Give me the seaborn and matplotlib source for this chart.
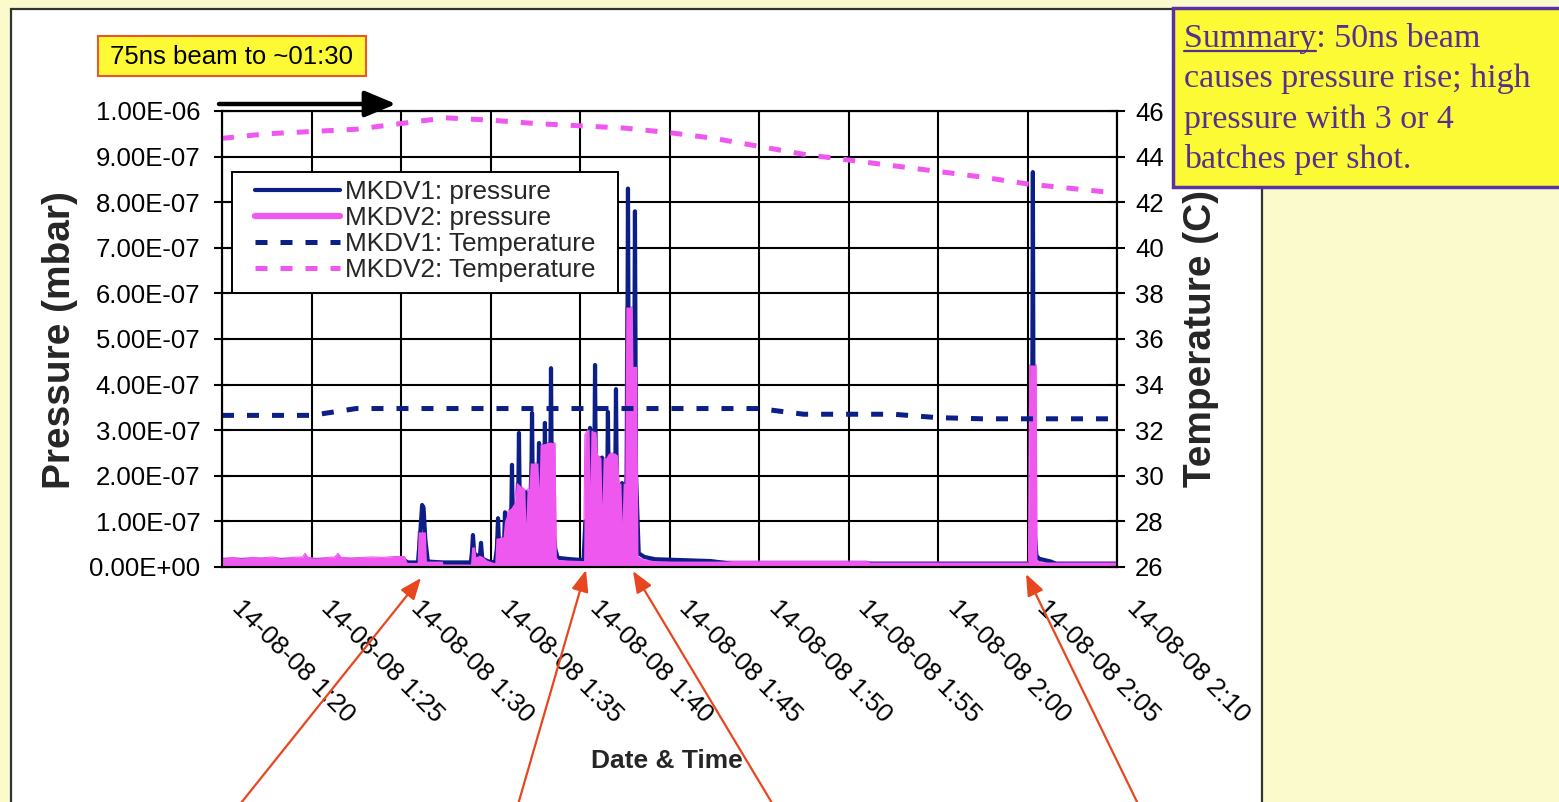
import numpy as np
import pandas as pd
import matplotlib
matplotlib.use("Agg")
import matplotlib.pyplot as plt
from matplotlib.patches import Rectangle, FancyArrowPatch
from matplotlib.transforms import ScaledTranslation
from matplotlib.ticker import FuncFormatter
import seaborn as sns

# ---------------- data ----------------
# time axis: minutes after 2008-08-14 01:20; pressure in units of 1e-7 mbar
start = pd.Timestamp("2008-08-14 01:20")

mkdv1_p_min = [0.0, 10.2, 10.4, 10.95, 11.05, 11.18, 11.26, 11.36, 11.5, 12.3,
               13.9, 13.96, 14.02, 14.09, 14.4, 14.47, 14.54, 14.9, 15.25,
               15.36, 15.42, 15.48, 15.75, 15.81, 15.87, 16.14, 16.20, 16.26,
               16.53, 16.59, 16.65, 16.92, 16.98, 17.04, 17.26, 17.32, 17.38,
               17.65, 17.71, 17.77, 17.98, 18.04, 18.10, 18.32, 18.38, 18.44,
               18.62, 18.75, 19.5, 20.2, 20.3, 20.5, 20.56, 20.62, 20.78, 20.84,
               20.9, 21.17, 21.23, 21.29, 21.5, 21.56, 21.62, 21.95, 22.01, 22.07,
               22.29, 22.35, 22.41, 22.62, 22.68, 22.74, 23.01, 23.07, 23.13,
               23.28, 23.6, 24.2, 27.3, 28.5, 45.2, 45.25, 45.3, 45.35, 45.5,
               45.65, 46.3, 46.6, 50.0]
mkdv1_p_val = [0.14, 0.14, 0.10, 0.10, 0.60, 1.36, 1.30, 0.60, 0.12, 0.10,
               0.10, 0.30, 0.70, 0.30, 0.20, 0.53, 0.18, 0.12, 0.10,
               0.40, 1.07, 0.40, 0.40, 1.20, 0.40, 0.60, 2.24, 0.60,
               0.80, 2.94, 0.80, 0.80, 1.64, 0.80, 1.00, 3.38, 1.00,
               1.00, 2.72, 1.00, 1.00, 3.16, 1.00, 1.00, 4.36, 1.00,
               0.40, 0.20, 0.17, 0.15, 1.00, 1.00, 3.05, 1.00, 1.00, 4.43,
               1.00, 1.00, 2.40, 1.00, 1.00, 3.40, 1.00, 1.00, 3.90, 1.00,
               0.80, 1.84, 0.80, 2.00, 8.30, 2.00, 2.00, 7.80, 2.00,
               0.30, 0.22, 0.17, 0.13, 0.07, 0.07, 1.00, 8.66, 1.00, 0.25,
               0.18, 0.12, 0.07, 0.07]

mkdv2_p_min = [0.0, 0.6, 1.1, 1.7, 2.2, 2.8, 3.3, 3.9, 4.5, 4.64, 4.8, 5.3, 5.9,
               6.3, 6.48, 6.65, 7.2, 7.8, 8.4, 9.0, 9.6, 10.2, 10.34, 10.9,
               10.96, 11.36, 11.42, 12.3, 12.36, 13.88, 13.95, 14.12, 14.18,
               14.38, 14.58, 14.8, 15.15, 15.24, 15.3, 15.7, 15.78, 16.0, 16.15,
               16.35, 16.45, 16.85, 16.92, 16.98, 17.04, 17.15, 17.22, 17.62,
               17.65, 17.71, 17.77, 17.95, 18.3, 18.6, 18.68, 18.8, 20.2, 20.27,
               20.45, 20.51, 20.56, 20.61, 20.9, 20.98, 21.17, 21.23, 21.29,
               21.45, 21.6, 21.95, 22.1, 22.18, 22.29, 22.35, 22.41, 22.5, 22.56,
               22.92, 22.96, 23.17, 23.24, 23.6, 24.5, 36.0, 36.2, 45.05, 45.12,
               45.48, 45.53, 45.8, 50.0]
mkdv2_p_val = [0.19, 0.21, 0.19, 0.21, 0.20, 0.22, 0.19, 0.21, 0.22, 0.30, 0.21,
               0.19, 0.21, 0.22, 0.30, 0.21, 0.20, 0.21, 0.22, 0.21, 0.23, 0.23,
               0.10, 0.10, 0.77, 0.77, 0.13, 0.13, 0.05, 0.05, 0.44, 0.44, 0.22,
               0.26, 0.22, 0.15, 0.10, 0.10, 0.63, 0.66, 1.00, 1.25, 1.30,
               1.42, 1.86, 1.72, 1.70, 0.96, 1.70, 1.72, 2.28, 2.28,
               2.28, 1.73, 2.68, 2.70, 2.74, 2.72, 0.22, 0.16, 0.14, 2.90,
               3.02, 3.02, 1.80, 3.00, 2.96, 2.45, 2.40, 1.36, 2.38,
               2.40, 2.50, 2.50, 2.45, 1.84, 1.84, 0.99, 1.84, 1.84, 5.70,
               5.70, 4.40, 4.40, 0.22, 0.15, 0.13, 0.13, 0.11, 0.11, 4.43,
               4.43, 0.13, 0.11, 0.11]

temp_min = [0, 2.5, 5, 7.5, 10, 12.5, 15, 17.5, 20, 22.5, 25, 27.5, 30, 32.5,
            35, 37.5, 40, 42.5, 45, 47.5, 50]
mkdv1_temp = [32.65, 32.65, 32.65, 32.95, 32.95, 32.95, 32.95, 32.95, 32.95,
              32.95, 32.95, 32.95, 32.95, 32.7, 32.7, 32.7, 32.55, 32.5, 32.5,
              32.5, 32.5]
mkdv2_temp = [44.8, 45.0, 45.1, 45.2, 45.45, 45.7, 45.6, 45.45, 45.35, 45.25,
              45.05, 44.8, 44.45, 44.1, 43.85, 43.6, 43.35, 43.1, 42.8, 42.6, 42.4]

tick_labels = ["14-08-08 1:20", "14-08-08 1:25", "14-08-08 1:30", "14-08-08 1:35",
               "14-08-08 1:40", "14-08-08 1:45", "14-08-08 1:50", "14-08-08 1:55",
               "14-08-08 2:00", "14-08-08 2:05", "14-08-08 2:10"]
pressure_ticks = [0, 1e-7, 2e-7, 3e-7, 4e-7, 5e-7, 6e-7, 7e-7, 8e-7, 9e-7, 1e-6]
temp_ticks = [26, 28, 30, 32, 34, 36, 38, 40, 42, 44, 46]

NAVY = "#0B1F86"
PINK = "#EE58EE"
BG = "#FAFACC"


def frame(minutes, values, scale=1.0):
    return pd.DataFrame({
        "time": start + pd.to_timedelta(np.asarray(minutes, dtype=float), unit="min"),
        "value": np.asarray(values, dtype=float) * scale,
    })


p1 = frame(mkdv1_p_min, mkdv1_p_val, 1e-7)
p2 = frame(mkdv2_p_min, mkdv2_p_val, 1e-7)
t1 = frame(temp_min, mkdv1_temp)
t2 = frame(temp_min, mkdv2_temp)

# ---------------- figure ----------------
sns.set_style("white")
plt.rcParams["font.family"] = ["Liberation Sans", "DejaVu Sans"]

W, H = 1559, 802
fig = plt.figure(figsize=(W / 100, H / 100), dpi=100, facecolor=BG)


def fx(px):
    return px / W


def fy(py):
    return 1 - py / H


# white slide panel
fig.add_artist(Rectangle((fx(11), -0.02), fx(1262) - fx(11), fy(9) + 0.02,
                         transform=fig.transFigure, facecolor="white",
                         edgecolor="#333333", lw=1.6, zorder=-5))

ax = fig.add_axes([fx(222), fy(567), fx(1117) - fx(222), fy(111) - fy(567)])
ax.set_facecolor("white")
ax2 = ax.twinx()

# pressure traces
sns.lineplot(data=p1, x="time", y="value", ax=ax, color=NAVY, lw=3.0,
             estimator=None, sort=False, label="MKDV1: pressure", zorder=2)
sns.lineplot(data=p2, x="time", y="value", ax=ax, color=PINK, lw=0.8,
             estimator=None, sort=False, label="MKDV2: pressure", zorder=1.5)
ax.fill_between(p2["time"], 0, p2["value"], color=PINK, lw=0, zorder=3)

# temperature traces
sns.lineplot(data=t1, x="time", y="value", ax=ax2, color=NAVY, lw=3.6,
             estimator=None, sort=False, label="MKDV1: Temperature")
sns.lineplot(data=t2, x="time", y="value", ax=ax2, color=PINK, lw=3.6,
             estimator=None, sort=False, label="MKDV2: Temperature")
for ln in ax2.lines:
    ln.set_linestyle((0, (2.4, 2.6)))
    ln.set_dash_capstyle("butt")

# axes limits and ticks
xticks = pd.date_range(start, periods=len(tick_labels), freq="5min")
ax.set_xlim(xticks[0], xticks[-1])
ax.set_ylim(0, 1e-6)
ax2.set_ylim(26, 46)
ax.set_yticks(pressure_ticks)
ax2.set_yticks(temp_ticks)
ax.yaxis.set_major_formatter(FuncFormatter(lambda v, p: f"{v:.2E}"))
ax.set_xticks(xticks)
ax.set_xticklabels(tick_labels, rotation=-45, ha="left", va="top",
                   rotation_mode="anchor")

ax.set_axisbelow(True)
ax.grid(True, color="black", lw=1.5)
ax2.grid(False)
for a in (ax, ax2):
    for s in a.spines.values():
        s.set_color("black")
        s.set_linewidth(1.5)

ax.tick_params(axis="y", direction="inout", length=12, width=1.5, pad=9.5,
               labelsize=18.5, colors="black")
ax.tick_params(axis="x", direction="out", length=7.5, width=1.5, pad=13,
               labelsize=18.7, colors="black")
ax2.tick_params(axis="y", direction="inout", length=12, width=1.5, pad=7,
                labelsize=18.5, colors="black")
for lbl in ax.get_xticklabels():
    lbl.set_transform(lbl.get_transform() +
                      ScaledTranslation(0.22, 0, fig.dpi_scale_trans))

ax.set_ylabel("Pressure (mbar)", fontsize=28, fontweight="bold")
ax.yaxis.set_label_coords(-0.161, 0.498)
ax2.set_ylabel("Temperature (C)", fontsize=28, fontweight="bold")
ax2.yaxis.set_label_coords(1.0737, 0.502)
ax.set_xlabel("Date & Time", fontsize=19, fontweight="bold")
ax.xaxis.set_label_coords(0.497, -0.40)

# legend combining both axes, inside a plain white box
h1, l1 = ax.get_legend_handles_labels()
h2, l2 = ax2.get_legend_handles_labels()
for a in (ax, ax2):
    if a.get_legend() is not None:
        a.get_legend().remove()
ax2.add_patch(Rectangle((fx(232), fy(293)), fx(618) - fx(232), fy(172) - fy(293),
                        transform=fig.transFigure, facecolor="white",
                        edgecolor="black", lw=1.4, zorder=4.5, clip_on=False))
leg = ax2.legend(h1 + h2, l1 + l2, loc="upper left",
                 bbox_to_anchor=(fx(255), fy(180)), bbox_transform=fig.transFigure,
                 borderaxespad=0, borderpad=0, fontsize=18.8, frameon=False,
                 handlelength=3.25, handletextpad=0.2, labelspacing=0.08)
leg.set_zorder(5)
for hl, w in zip(leg.get_lines(), [3.0, 4.5, 3.6, 3.6]):
    hl.set_linewidth(w)

# annotation box "75ns beam"
fig.add_artist(Rectangle((fx(98), fy(76)), fx(366) - fx(98), fy(36) - fy(76),
                         transform=fig.transFigure, facecolor="#FCFA35",
                         edgecolor="#E8582A", lw=1.5, zorder=5))
fig.text(fx(232), fy(57), "75ns beam to ~01:30", fontsize=18.5, color="black",
         ha="center", va="center", zorder=6)
fig.add_artist(FancyArrowPatch((fx(219), fy(104)), (fx(396), fy(104)),
                               transform=fig.transFigure,
                               arrowstyle="-|>,head_length=1.0,head_width=0.42",
                               mutation_scale=19, lw=3.2, color="black",
                               shrinkA=0, shrinkB=0, zorder=6))

# summary box
PURPLE = "#55308E"
fig.add_artist(Rectangle((fx(1173), fy(187)), 0.3, fy(8) - fy(187),
                         transform=fig.transFigure, facecolor="#FCFA35",
                         edgecolor="#5B33A0", lw=2.5, zorder=5))
summary_lines = ["Summary: 50ns beam", "causes pressure rise; high",
                 "pressure with 3 or 4", "batches per shot."]
for txt, base in zip(summary_lines, [47, 87, 128, 168]):
    fig.text(fx(1184), fy(base), txt, fontsize=24.5, family="Liberation Serif",
             color=PURPLE, ha="left", va="baseline", zorder=6)
fig.canvas.draw()
probe = fig.text(fx(1184), fy(47), "Summary", fontsize=24.5,
                 family="Liberation Serif", ha="left", va="baseline", alpha=0)
ext = probe.get_window_extent(fig.canvas.get_renderer())
probe.remove()
fig.add_artist(plt.Line2D([fx(1184), fx(1184) + ext.width / W], [fy(51), fy(51)],
                          transform=fig.transFigure, color=PURPLE, lw=1.6,
                          zorder=6))

# red pointer arrows
for (x0, y0), (x1, y1) in [((237, 808), (421, 578)), ((517, 808), (586, 570)),
                           ((775, 808), (633, 571)), ((1140, 808), (1026, 574))]:
    fig.add_artist(FancyArrowPatch((fx(x0), fy(y0)), (fx(x1), fy(y1)),
                                   transform=fig.transFigure,
                                   arrowstyle="-|>,head_length=1.0,head_width=0.4",
                                   mutation_scale=13, lw=1.6, color="#E8461E",
                                   shrinkA=0, shrinkB=0, zorder=7))

fig.savefig("out.png", dpi=100, facecolor=BG)
